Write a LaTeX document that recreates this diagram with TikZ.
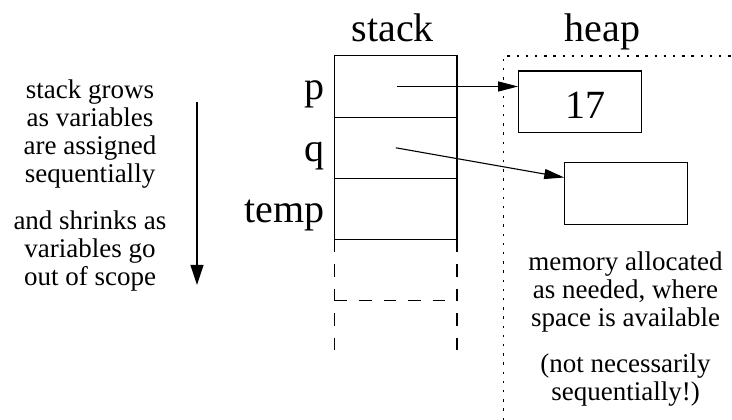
\documentclass[tikz,border=0pt]{standalone}
\usepackage{fontspec}
\setmainfont{Liberation Serif}
\usetikzlibrary{positioning,arrows.meta}

\begin{document}
\begin{tikzpicture}[x=1pt, y=1pt,
	big/.style={font=\fontsize{40}{44}\selectfont, inner sep=0pt},
	small/.style={font=\fontsize{27}{28}\selectfont, align=center, inner sep=0pt},
	cell/.style={draw, line width=1.1pt, minimum width=122.5pt, minimum height=61.3pt, inner sep=0pt, outer sep=0pt},
	heapbox/.style={draw, line width=1.1pt, minimum width=123pt, minimum height=61.5pt, inner sep=0pt},
	pointer/.style={line width=1.1pt, -{Triangle[length=20pt,width=10pt]}},
	unused/.style={line width=1.1pt, dash pattern=on 12.5pt off 12pt},
	heapedge/.style={line width=1.2pt, dash pattern=on 2.4pt off 6.8pt}]
	\useasboundingbox (0,0) rectangle (732,420);
	
	% Stack cells
	\node[cell] (p) at (395.75,333.5) {};
	\node[cell, below=0pt of p] (q) {};
	\node[cell, below=0pt of q] (temp) {};
	
	% Stack labels
	\node[big, anchor=base] (stacklabel) at ([xshift=-3pt,yshift=14pt]p.north) {stack};
	\node[big, anchor=base east] (plabel) at ([xshift=-10pt,yshift=-13.5pt]p.west) {p};
	\node[big, anchor=base east] (qlabel) at ([xshift=-10pt,yshift=-13.5pt]q.west) {q};
	\node[big, anchor=base east] (templabel) at ([xshift=-10pt,yshift=-13.5pt]temp.west) {temp};
	
	% Free stack space
	\coordinate (freesw) at ([yshift=-110pt]temp.south west);
	\coordinate (freese) at ([yshift=-110pt]temp.south east);
	\coordinate (freew) at ([yshift=-61pt]temp.south west);
	\coordinate (freee) at ([yshift=-61pt]temp.south east);
	\draw[unused] (temp.south west) -- (freesw);
	\draw[unused] (temp.south east) -- (freese);
	\draw[unused] (freew) -- (freee);
	
	% Heap
	\coordinate (heapcorner) at (503.3,364);
	\coordinate (heapbottom) at (503.3,0);
	\coordinate (heapright) at (732,364);
	\draw[heapedge] (heapbottom) -- (heapcorner) -- (heapright);
	\node[big, anchor=base] (heaplabel) at (602.5,378) {heap};
	\node[heapbox] (box17) at (580.2,318.2) {};
	\node[big, anchor=base] (val17) at ([xshift=5.5pt,yshift=-16.5pt]box17.center) {17};
	\node[heapbox] (box2) at (626.3,226.5) {};
	
	% Pointers
	\coordinate (pstart) at ([xshift=1pt]p.center);
	\draw[pointer] (pstart) -- (pstart -| box17.west);
	\draw[pointer] (q.center) -- ([yshift=-15.3pt]box2.north west);
	
	% Notes
	\coordinate (growtop) at (197,318.3);
	\coordinate (growend) at (197,135);
	\draw[line width=1.1pt, -{Triangle[length=20pt,width=13pt]}] (growtop) -- (growend);
	\node[small, anchor=base] (grows) at (90,237) {stack grows\\as variables\\are assigned\\sequentially};
	\node[small, anchor=base] (shrinks) at (90,134) {and shrinks as\\variables go\\out of scope};
	\node[small, anchor=base] (alloc) at (625.5,93) {memory allocated\\as needed, where\\space is available};
	\node[small, anchor=base] (notseq) at (625.5,19) {(not necessarily\\sequentially!)};
\end{tikzpicture}
\end{document}
